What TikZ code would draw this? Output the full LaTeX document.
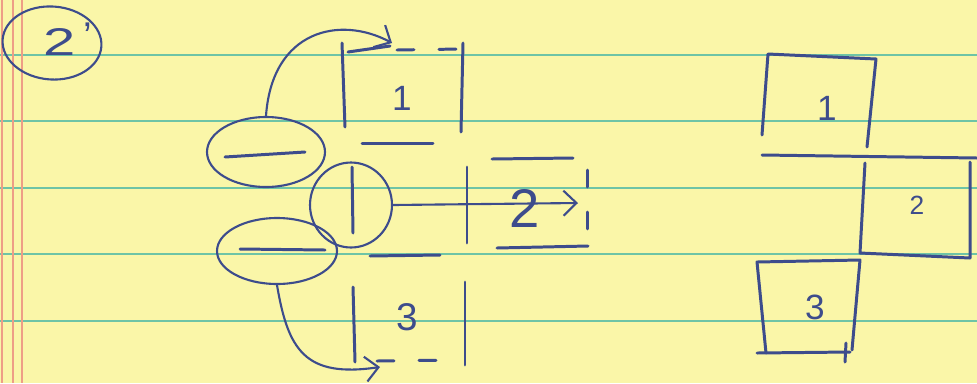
\documentclass[tikz,border=0pt]{standalone}
\usepackage{fontspec}
\setmainfont{Liberation Sans}
\usepackage{xcolor}
\usetikzlibrary{shapes.geometric,arrows.meta,positioning}

\definecolor{paper}{HTML}{FAF6A8}
\definecolor{rulecol}{HTML}{6EC4A6}
\definecolor{margincol}{HTML}{EE9E86}
\definecolor{ink}{HTML}{3D4C8C}

\tikzset{
  pen/.style={draw=ink, line width=1.7pt, line cap=round, line join=round},
  loopy/.style={draw=ink, line width=1.2pt, ellipse, inner sep=0pt},
  dashedge/.style={pen, dash pattern=on 0.34cm off 0.5cm},
  barb/.style={pen, line width=1.2pt, -{Straight Barb[length=2.6mm,width=5mm]}},
  lbl/.style={text=ink, inner sep=0pt}
}

\begin{document}
\begin{tikzpicture}[x=0.02cm, y=-0.02cm]
% Paper
\fill[paper] (0,0) rectangle (977,383);
\useasboundingbox (0,0) rectangle (977,383);
\foreach \yy in {55,121,188,254,321} {
    \draw[rulecol, line width=0.8pt] (0,\yy) -- (977,\yy);
}
\foreach \xx in {2,13,22} {
    \draw[margincol, line width=0.8pt] (\xx,0) -- (\xx,383);
}

% Title
\node[loopy, minimum width=1.98cm, minimum height=1.46cm, rotate=-4] (title) at (52,43) {};
\node[lbl, font=\fontsize{22}{22}\selectfont, xscale=1.5] (titletext) at (60,42) {2};
\node[lbl, font=\fontsize{22}{22}\selectfont] (titleprime) at (88,36) {’};

% Gaps (left picture)
\node[loopy, minimum width=2.36cm, minimum height=1.4cm] (gaptop) at (266,152) {};
\node[loopy, minimum width=1.64cm, minimum height=1.7cm] (gapmid) at (351,205) {};
\node[loopy, minimum width=2.4cm, minimum height=1.32cm] (gapbot) at (277,251) {};
\draw[pen] ([shift={(-41,5)}]gaptop.center) -- ([shift={(39,0)}]gaptop.center);
\draw[pen] ([shift={(1,-38)}]gapmid.center) -- ([shift={(2,28)}]gapmid.center);
\draw[pen] ([shift={(-37,-2)}]gapbot.center) -- ([shift={(48,-1)}]gapbot.center);

% Squares (left picture)
\draw[pen] (342,43) -- (345,127);
\draw[pen] (463,43) -- (461,132);
\draw[pen] (348,52) -- (390,46);
\draw[dashedge] (397,50) -- (460,49);
\draw[pen] (362,143) -- (433,143);
\draw[pen] (467,167) -- (467,243);
\draw[pen] (492,159) -- (573,158);
\draw[pen] (497,248) -- (588,246);
\draw[dashedge] (587,170) -- (587,240);
\draw[pen] (370,256) -- (440,255);
\draw[pen] (353,287) -- (355,362);
\draw[pen] (465,282) -- (465,365);
\draw[dashedge] (377,361) -- (458,360);

\node[lbl, font=\fontsize{20}{20}\selectfont] (one) at (402,98) {1};
\node[lbl, font=\fontsize{31}{31}\selectfont] (two) at (525,208) {2};
\node[lbl, font=\fontsize{22}{22}\selectfont] (three) at (407,317) {3};

% Moves
\coordinate (tipone) at (392,43);
\coordinate (tiptwo) at (578,203);
\coordinate (tipthree) at (380,367);
\draw[barb] (gaptop.north) .. controls (272,30) and (340,15) .. (tipone);
\draw[barb] (gapmid.east) -- (tiptwo);
\draw[barb] (gapbot.south) .. controls (288,350) and (305,378) .. (tipthree);

% Result (right picture)
\draw[pen] (762,135) -- (768,54) -- (876,59) -- (867,147);
\draw[pen] (762,155) -- (977,158);
\draw[pen] (865,163) -- (860,253) -- (970,258) -- (970,162);
\draw[pen] (766,353) -- (757,262) -- (860,260) -- (852,350);
\draw[pen] (757,353) -- (850,352);
\draw[pen] (846,343) -- (845,362);

\node[lbl, font=\fontsize{20}{20}\selectfont] (rone) at (827,108) {1};
\node[lbl, font=\fontsize{15}{15}\selectfont] (rtwo) at (917,205) {2};
\node[lbl, font=\fontsize{20}{20}\selectfont] (rthree) at (815,307) {3};
\end{tikzpicture}
\end{document}
